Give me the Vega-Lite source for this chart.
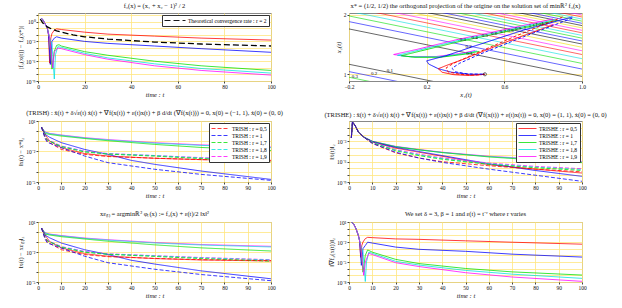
{
"$schema": "https://vega.github.io/schema/vega-lite/v6.json",
"background": "white",
"padding": {"left": 17, "top": 2, "right": 2, "bottom": 2},
"config": {
  "font": "Liberation Serif",
  "view": {"stroke": "#888888", "strokeWidth": 1},
  "axis": {"labelFontSize": 5.5, "titleFontSize": 6.5, "titleFontWeight": "normal", "gridColor": "#ffe680", "gridWidth": 0.8, "domain": false, "tickSize": 2, "tickColor": "#444444", "labelColor": "#111111", "titleColor": "#111111", "labelPadding": 1, "titlePadding": 2, "labelFlush": false, "labelOverlap": false},
  "title": {"fontSize": 6.5, "fontWeight": "normal", "offset": 3, "color": "#111111"},
  "legend": {"labelFontSize": 5.5, "symbolType": "M-1,0L5,0", "symbolSize": 36, "labelOffset": 14, "symbolStrokeWidth": 1.5, "rowPadding": 0, "padding": 2, "strokeColor": "#333333", "fillColor": "white", "offset": 2, "labelLimit": 300, "columnPadding": 2},
  "line": {"strokeWidth": 0.9}
},
"datasets": {
"p1": [
{"t":1.5,"v":3.16,"r":"0,5"},{"t":2,"v":2.0,"r":"0,5"},{"t":3,"v":0.5,"r":"0,5"},{"t":4,"v":0.1,"r":"0,5"},{"t":4.5,"v":0.01,"r":"0,5"},{"t":5,"v":5e-7,"r":"0,5"},{"t":5.5,"v":3.16e-3,"r":"0,5"},{"t":6,"v":1.58e-2,"r":"0,5"},{"t":7,"v":5e-2,"r":"0,5"},{"t":8,"v":7.9e-2,"r":"0,5"},{"t":10,"v":6.3e-2,"r":"0,5"},{"t":20,"v":2.5e-2,"r":"0,5"},{"t":30,"v":1.26e-2,"r":"0,5"},{"t":50,"v":6.3e-3,"r":"0,5"},{"t":70,"v":3.16e-3,"r":"0,5"},{"t":100,"v":1.58e-3,"r":"0,5"},
{"t":1.5,"v":3.16,"r":"1"},{"t":2,"v":2.0,"r":"1"},{"t":3,"v":0.5,"r":"1"},{"t":4,"v":0.1,"r":"1"},{"t":4.5,"v":0.01,"r":"1"},{"t":5.3,"v":3.16e-7,"r":"1"},{"t":6,"v":1e-3,"r":"1"},{"t":7,"v":3.16e-3,"r":"1"},{"t":8,"v":5e-3,"r":"1"},{"t":10,"v":3.16e-3,"r":"1"},{"t":20,"v":1e-3,"r":"1"},{"t":30,"v":5e-4,"r":"1"},{"t":50,"v":2e-4,"r":"1"},{"t":70,"v":7.9e-5,"r":"1"},{"t":100,"v":2.24e-5,"r":"1"},
{"t":1.5,"v":3.16,"r":"1,7"},{"t":2,"v":2.0,"r":"1,7"},{"t":3,"v":0.5,"r":"1,7"},{"t":4,"v":0.1,"r":"1,7"},{"t":5,"v":3.16e-3,"r":"1,7"},{"t":6,"v":6.3e-8,"r":"1,7"},{"t":7,"v":3.16e-5,"r":"1,7"},{"t":8,"v":2.5e-4,"r":"1,7"},{"t":9,"v":3.16e-4,"r":"1,7"},{"t":10,"v":2e-4,"r":"1,7"},{"t":20,"v":2.8e-5,"r":"1,7"},{"t":30,"v":7.9e-6,"r":"1,7"},{"t":50,"v":1e-6,"r":"1,7"},{"t":70,"v":2e-7,"r":"1,7"},{"t":100,"v":4e-8,"r":"1,7"},
{"t":1.5,"v":3.16,"r":"1,8"},{"t":2,"v":2.0,"r":"1,8"},{"t":3,"v":0.5,"r":"1,8"},{"t":4,"v":0.1,"r":"1,8"},{"t":5,"v":3.16e-3,"r":"1,8"},{"t":6,"v":3.16e-4,"r":"1,8"},{"t":7,"v":2e-9,"r":"1,8"},{"t":7.5,"v":1e-5,"r":"1,8"},{"t":8.5,"v":1.58e-4,"r":"1,8"},{"t":10,"v":1.26e-4,"r":"1,8"},{"t":20,"v":1.58e-5,"r":"1,8"},{"t":30,"v":3.16e-6,"r":"1,8"},{"t":50,"v":4e-7,"r":"1,8"},{"t":70,"v":7.9e-8,"r":"1,8"},{"t":100,"v":1.58e-8,"r":"1,8"},
{"t":1.5,"v":3.16,"r":"1,9"},{"t":2,"v":2.0,"r":"1,9"},{"t":3,"v":0.5,"r":"1,9"},{"t":4,"v":0.1,"r":"1,9"},{"t":5,"v":3.16e-3,"r":"1,9"},{"t":6.3,"v":1e-7,"r":"1,9"},{"t":7,"v":2.5e-5,"r":"1,9"},{"t":8.5,"v":1e-4,"r":"1,9"},{"t":10,"v":7.9e-5,"r":"1,9"},{"t":20,"v":1e-5,"r":"1,9"},{"t":30,"v":2e-6,"r":"1,9"},{"t":50,"v":2e-7,"r":"1,9"},{"t":70,"v":4e-8,"r":"1,9"},{"t":100,"v":7.9e-9,"r":"1,9"}
],
"p1t": [
{"t":1,"v":2.5,"s":"Theoretical convergence rate : r = 2"},{"t":2,"v":0.63,"s":"Theoretical convergence rate : r = 2"},{"t":4,"v":0.158,"s":"Theoretical convergence rate : r = 2"},{"t":6,"v":7.1e-2,"s":"Theoretical convergence rate : r = 2"},{"t":8,"v":4e-2,"s":"Theoretical convergence rate : r = 2"},{"t":10,"v":2.5e-2,"s":"Theoretical convergence rate : r = 2"},{"t":15,"v":1e-2,"s":"Theoretical convergence rate : r = 2"},{"t":20,"v":5e-3,"s":"Theoretical convergence rate : r = 2"},{"t":30,"v":2.24e-3,"s":"Theoretical convergence rate : r = 2"},{"t":50,"v":7.9e-4,"s":"Theoretical convergence rate : r = 2"},{"t":70,"v":4e-4,"s":"Theoretical convergence rate : r = 2"},{"t":100,"v":2e-4,"s":"Theoretical convergence rate : r = 2"}
],
"cont": [
{"id":"u1","x1":-0.2,"x2":1.647,"col":"k"},{"id":"u1","x1":1,"x2":0.447,"col":"k"},
{"id":"u2","x1":-0.2,"x2":1.832,"col":"b"},{"id":"u2","x1":1,"x2":0.632,"col":"b"},
{"id":"u3","x1":-0.2,"x2":1.975,"col":"g"},{"id":"u3","x1":1,"x2":0.775,"col":"g"},
{"id":"u4","x1":-0.2,"x2":2.094,"col":"c"},{"id":"u4","x1":1,"x2":0.894,"col":"c"},
{"id":"u5","x1":-0.2,"x2":2.2,"col":"r"},{"id":"u5","x1":1,"x2":1.0,"col":"r"},
{"id":"u6","x1":-0.2,"x2":2.295,"col":"m"},{"id":"u6","x1":1,"x2":1.095,"col":"m"},
{"id":"u7","x1":-0.2,"x2":2.383,"col":"y"},{"id":"u7","x1":1,"x2":1.183,"col":"y"},
{"id":"u8","x1":-0.2,"x2":2.465,"col":"k"},{"id":"u8","x1":1,"x2":1.265,"col":"k"},
{"id":"u9","x1":-0.2,"x2":2.542,"col":"b"},{"id":"u9","x1":1,"x2":1.342,"col":"b"},
{"id":"u10","x1":-0.2,"x2":2.614,"col":"g"},{"id":"u10","x1":1,"x2":1.414,"col":"g"},
{"id":"u11","x1":-0.2,"x2":2.683,"col":"c"},{"id":"u11","x1":1,"x2":1.483,"col":"c"},
{"id":"u12","x1":-0.2,"x2":2.749,"col":"r"},{"id":"u12","x1":1,"x2":1.549,"col":"r"},
{"id":"u13","x1":-0.2,"x2":2.812,"col":"m"},{"id":"u13","x1":1,"x2":1.612,"col":"m"},
{"id":"u14","x1":-0.2,"x2":2.873,"col":"y"},{"id":"u14","x1":1,"x2":1.673,"col":"y"},
{"id":"u15","x1":-0.2,"x2":2.932,"col":"k"},{"id":"u15","x1":1,"x2":1.732,"col":"k"},
{"id":"u16","x1":-0.2,"x2":2.989,"col":"b"},{"id":"u16","x1":1,"x2":1.789,"col":"b"},
{"id":"u17","x1":-0.2,"x2":3.044,"col":"g"},{"id":"u17","x1":1,"x2":1.844,"col":"g"},
{"id":"u18","x1":-0.2,"x2":3.097,"col":"c"},{"id":"u18","x1":1,"x2":1.897,"col":"c"},
{"id":"u19","x1":-0.2,"x2":3.149,"col":"r"},{"id":"u19","x1":1,"x2":1.949,"col":"r"},
{"id":"u20","x1":-0.2,"x2":3.2,"col":"m"},{"id":"u20","x1":1,"x2":2.0,"col":"m"},
{"id":"l1","x1":-0.2,"x2":0.753,"col":"k"},{"id":"l1","x1":1,"x2":-0.447,"col":"k"},
{"id":"l2","x1":-0.2,"x2":0.568,"col":"b"},{"id":"l2","x1":1,"x2":-0.632,"col":"b"},
{"id":"l3","x1":-0.2,"x2":0.425,"col":"g"},{"id":"l3","x1":1,"x2":-0.775,"col":"g"}
],
"traj": [
{"id":"mE","o":1,"x1":0.85,"x2":1.9,"col":"m","m":"E"},{"id":"mE","o":2,"x1":0.6,"x2":1.63,"col":"m","m":"E"},{"id":"mE","o":3,"x1":0.35,"x2":1.37,"col":"m","m":"E"},{"id":"mE","o":4,"x1":0.15,"x2":1.13,"col":"m","m":"E"},{"id":"mE","o":5,"x1":0.03,"x2":1.0,"col":"m","m":"E"},{"id":"mE","o":6,"x1":0.1,"x2":0.95,"col":"m","m":"E"},{"id":"mE","o":7,"x1":0.25,"x2":0.95,"col":"m","m":"E"},{"id":"mE","o":8,"x1":0.38,"x2":1.03,"col":"m","m":"E"},{"id":"mE","o":9,"x1":0.45,"x2":1.1,"col":"m","m":"E"},
{"id":"cE","o":1,"x1":0.86,"x2":1.88,"col":"c","m":"E"},{"id":"cE","o":2,"x1":0.61,"x2":1.61,"col":"c","m":"E"},{"id":"cE","o":3,"x1":0.36,"x2":1.35,"col":"c","m":"E"},{"id":"cE","o":4,"x1":0.16,"x2":1.11,"col":"c","m":"E"},{"id":"cE","o":5,"x1":0.05,"x2":0.98,"col":"c","m":"E"},{"id":"cE","o":6,"x1":0.12,"x2":0.94,"col":"c","m":"E"},{"id":"cE","o":7,"x1":0.26,"x2":0.94,"col":"c","m":"E"},{"id":"cE","o":8,"x1":0.39,"x2":1.02,"col":"c","m":"E"},{"id":"cE","o":9,"x1":0.46,"x2":1.09,"col":"c","m":"E"},
{"id":"gE","o":1,"x1":0.87,"x2":1.86,"col":"g","m":"E"},{"id":"gE","o":2,"x1":0.62,"x2":1.59,"col":"g","m":"E"},{"id":"gE","o":3,"x1":0.37,"x2":1.33,"col":"g","m":"E"},{"id":"gE","o":4,"x1":0.17,"x2":1.09,"col":"g","m":"E"},{"id":"gE","o":5,"x1":0.07,"x2":0.97,"col":"g","m":"E"},{"id":"gE","o":6,"x1":0.14,"x2":0.93,"col":"g","m":"E"},{"id":"gE","o":7,"x1":0.27,"x2":0.93,"col":"g","m":"E"},{"id":"gE","o":8,"x1":0.4,"x2":1.01,"col":"g","m":"E"},{"id":"gE","o":9,"x1":0.47,"x2":1.08,"col":"g","m":"E"},
{"id":"bE","o":1,"x1":0.95,"x2":1.95,"col":"b","m":"E"},{"id":"bE","o":2,"x1":0.7,"x2":1.62,"col":"b","m":"E"},{"id":"bE","o":3,"x1":0.45,"x2":1.22,"col":"b","m":"E"},{"id":"bE","o":4,"x1":0.3,"x2":0.97,"col":"b","m":"E"},{"id":"bE","o":5,"x1":0.2,"x2":0.84,"col":"b","m":"E"},{"id":"bE","o":6,"x1":0.21,"x2":0.76,"col":"b","m":"E"},{"id":"bE","o":7,"x1":0.26,"x2":0.64,"col":"b","m":"E"},{"id":"bE","o":8,"x1":0.33,"x2":0.55,"col":"b","m":"E"},{"id":"bE","o":9,"x1":0.42,"x2":0.5,"col":"b","m":"E"},{"id":"bE","o":10,"x1":0.5,"x2":0.5,"col":"b","m":"E"},
{"id":"rE","o":1,"x1":0.85,"x2":1.75,"col":"r","m":"E"},{"id":"rE","o":2,"x1":0.6,"x2":1.3,"col":"r","m":"E"},{"id":"rE","o":3,"x1":0.4,"x2":0.9,"col":"r","m":"E"},{"id":"rE","o":4,"x1":0.3,"x2":0.72,"col":"r","m":"E"},{"id":"rE","o":5,"x1":0.26,"x2":0.64,"col":"r","m":"E"},{"id":"rE","o":6,"x1":0.28,"x2":0.55,"col":"r","m":"E"},{"id":"rE","o":7,"x1":0.34,"x2":0.49,"col":"r","m":"E"},{"id":"rE","o":8,"x1":0.42,"x2":0.47,"col":"r","m":"E"},{"id":"rE","o":9,"x1":0.48,"x2":0.49,"col":"r","m":"E"},{"id":"rE","o":10,"x1":0.5,"x2":0.5,"col":"r","m":"E"},
{"id":"rH","o":1,"x1":0.9,"x2":1.95,"col":"r","m":"H"},{"id":"rH","o":2,"x1":0.65,"x2":1.45,"col":"r","m":"H"},{"id":"rH","o":3,"x1":0.45,"x2":1.02,"col":"r","m":"H"},{"id":"rH","o":4,"x1":0.34,"x2":0.78,"col":"r","m":"H"},{"id":"rH","o":5,"x1":0.3,"x2":0.66,"col":"r","m":"H"},{"id":"rH","o":6,"x1":0.31,"x2":0.56,"col":"r","m":"H"},{"id":"rH","o":7,"x1":0.37,"x2":0.5,"col":"r","m":"H"},{"id":"rH","o":8,"x1":0.45,"x2":0.48,"col":"r","m":"H"},{"id":"rH","o":9,"x1":0.5,"x2":0.5,"col":"r","m":"H"},
{"id":"bH","o":1,"x1":0.95,"x2":1.92,"col":"b","m":"H"},{"id":"bH","o":2,"x1":0.7,"x2":1.45,"col":"b","m":"H"},{"id":"bH","o":3,"x1":0.48,"x2":1.02,"col":"b","m":"H"},{"id":"bH","o":4,"x1":0.37,"x2":0.78,"col":"b","m":"H"},{"id":"bH","o":5,"x1":0.33,"x2":0.65,"col":"b","m":"H"},{"id":"bH","o":6,"x1":0.35,"x2":0.56,"col":"b","m":"H"},{"id":"bH","o":7,"x1":0.41,"x2":0.51,"col":"b","m":"H"},{"id":"bH","o":8,"x1":0.5,"x2":0.5,"col":"b","m":"H"}
],
"lab": [
{"x1":0.01,"x2":0.6,"txt":"0.1"},{"x1":-0.07,"x2":0.52,"txt":"0.2"},{"x1":-0.17,"x2":0.46,"txt":"0.3"},
{"x1":0.42,"x2":1.04,"txt":"0.1"},{"x1":0.416,"x2":1.216,"txt":"0.2"},
{"x1":0.387,"x2":1.387,"txt":"0.3"},{"x1":0.447,"x2":1.447,"txt":"0.4"},{"x1":0.5,"x2":1.5,"txt":"0.5"},{"x1":0.548,"x2":1.548,"txt":"0.6"},{"x1":0.592,"x2":1.592,"txt":"0.7"},{"x1":0.632,"x2":1.632,"txt":"0.8"},{"x1":0.671,"x2":1.671,"txt":"0.9"},{"x1":0.707,"x2":1.707,"txt":"1"},{"x1":0.742,"x2":1.742,"txt":"1.1"},{"x1":0.775,"x2":1.775,"txt":"1.2"},{"x1":0.806,"x2":1.806,"txt":"1.3"}
],
"mark": [{"x1":0.5,"x2":0.5}],
"p3": [
{"t":1.5,"v":2.5,"r":"1,9","m":"E"},{"t":3,"v":0.83,"r":"1,9","m":"E"},{"t":5,"v":0.6,"r":"1,9","m":"E"},{"t":10,"v":0.42,"r":"1,9","m":"E"},{"t":20,"v":0.23,"r":"1,9","m":"E"},{"t":30,"v":0.15,"r":"1,9","m":"E"},{"t":50,"v":7.4e-2,"r":"1,9","m":"E"},{"t":70,"v":4.5e-2,"r":"1,9","m":"E"},{"t":100,"v":2.75e-2,"r":"1,9","m":"E"},
{"t":1.5,"v":2.5,"r":"1,8","m":"E"},{"t":3,"v":0.8,"r":"1,8","m":"E"},{"t":5,"v":0.57,"r":"1,8","m":"E"},{"t":10,"v":0.39,"r":"1,8","m":"E"},{"t":20,"v":0.21,"r":"1,8","m":"E"},{"t":30,"v":0.135,"r":"1,8","m":"E"},{"t":50,"v":6.6e-2,"r":"1,8","m":"E"},{"t":70,"v":4e-2,"r":"1,8","m":"E"},{"t":100,"v":2.4e-2,"r":"1,8","m":"E"},
{"t":1.5,"v":2.5,"r":"1,7","m":"E"},{"t":3,"v":0.6,"r":"1,7","m":"E"},{"t":5,"v":0.48,"r":"1,7","m":"E"},{"t":10,"v":0.33,"r":"1,7","m":"E"},{"t":20,"v":0.19,"r":"1,7","m":"E"},{"t":30,"v":0.115,"r":"1,7","m":"E"},{"t":50,"v":5e-2,"r":"1,7","m":"E"},{"t":70,"v":2.5e-2,"r":"1,7","m":"E"},{"t":100,"v":1.26e-2,"r":"1,7","m":"E"},
{"t":1.5,"v":2.5,"r":"0,5","m":"E"},{"t":3,"v":0.5,"r":"0,5","m":"E"},{"t":5,"v":0.107,"r":"0,5","m":"E"},{"t":10,"v":2.4e-2,"r":"0,5","m":"E"},{"t":20,"v":6.3e-3,"r":"0,5","m":"E"},{"t":30,"v":3.6e-3,"r":"0,5","m":"E"},{"t":50,"v":2.14e-3,"r":"0,5","m":"E"},{"t":70,"v":1.58e-3,"r":"0,5","m":"E"},{"t":100,"v":1.17e-3,"r":"0,5","m":"E"},
{"t":1.5,"v":2.5,"r":"1","m":"E"},{"t":3,"v":0.49,"r":"1","m":"E"},{"t":5,"v":0.25,"r":"1","m":"E"},{"t":10,"v":7.4e-2,"r":"1","m":"E"},{"t":20,"v":1.6e-2,"r":"1","m":"E"},{"t":30,"v":5.2e-3,"r":"1","m":"E"},{"t":40,"v":1.35e-3,"r":"1","m":"E"},{"t":50,"v":5.5e-4,"r":"1","m":"E"},{"t":70,"v":1.2e-4,"r":"1","m":"E"},{"t":100,"v":1.8e-5,"r":"1","m":"E"},
{"t":1.5,"v":2.5,"r":"1,9","m":"H"},{"t":3,"v":0.35,"r":"1,9","m":"H"},{"t":4,"v":0.15,"r":"1,9","m":"H"},{"t":10,"v":3.5e-2,"r":"1,9","m":"H"},{"t":20,"v":1.1e-2,"r":"1,9","m":"H"},{"t":30,"v":6.3e-3,"r":"1,9","m":"H"},{"t":50,"v":4e-3,"r":"1,9","m":"H"},{"t":70,"v":2.5e-3,"r":"1,9","m":"H"},{"t":100,"v":1.35e-3,"r":"1,9","m":"H"},
{"t":1.5,"v":2.5,"r":"1,8","m":"H"},{"t":3,"v":0.33,"r":"1,8","m":"H"},{"t":4,"v":0.14,"r":"1,8","m":"H"},{"t":10,"v":3.2e-2,"r":"1,8","m":"H"},{"t":20,"v":1e-2,"r":"1,8","m":"H"},{"t":30,"v":6e-3,"r":"1,8","m":"H"},{"t":50,"v":4e-3,"r":"1,8","m":"H"},{"t":70,"v":2.3e-3,"r":"1,8","m":"H"},{"t":100,"v":1.2e-3,"r":"1,8","m":"H"},
{"t":1.5,"v":2.5,"r":"1,7","m":"H"},{"t":3,"v":0.3,"r":"1,7","m":"H"},{"t":4,"v":0.13,"r":"1,7","m":"H"},{"t":10,"v":3e-2,"r":"1,7","m":"H"},{"t":20,"v":9e-3,"r":"1,7","m":"H"},{"t":30,"v":5.5e-3,"r":"1,7","m":"H"},{"t":50,"v":3.5e-3,"r":"1,7","m":"H"},{"t":70,"v":2e-3,"r":"1,7","m":"H"},{"t":100,"v":9.3e-4,"r":"1,7","m":"H"},
{"t":1.5,"v":2.5,"r":"0,5","m":"H"},{"t":3,"v":0.25,"r":"0,5","m":"H"},{"t":4,"v":0.1,"r":"0,5","m":"H"},{"t":10,"v":1.6e-2,"r":"0,5","m":"H"},{"t":20,"v":5.2e-3,"r":"0,5","m":"H"},{"t":30,"v":3.2e-3,"r":"0,5","m":"H"},{"t":50,"v":2.2e-3,"r":"0,5","m":"H"},{"t":70,"v":1.6e-3,"r":"0,5","m":"H"},{"t":100,"v":1.35e-3,"r":"0,5","m":"H"},
{"t":1.5,"v":2.5,"r":"1","m":"H"},{"t":3,"v":0.2,"r":"1","m":"H"},{"t":4,"v":8e-2,"r":"1","m":"H"},{"t":10,"v":2.4e-2,"r":"1","m":"H"},{"t":20,"v":3.6e-3,"r":"1","m":"H"},{"t":30,"v":8e-4,"r":"1","m":"H"},{"t":50,"v":1.8e-4,"r":"1","m":"H"},{"t":70,"v":5.6e-5,"r":"1","m":"H"},{"t":100,"v":1.45e-5,"r":"1","m":"H"}
],
"p5": [
{"t":1.5,"v":2.5,"r":"1,9","m":"E"},{"t":3,"v":0.85,"r":"1,9","m":"E"},{"t":5,"v":0.62,"r":"1,9","m":"E"},{"t":10,"v":0.44,"r":"1,9","m":"E"},{"t":20,"v":0.25,"r":"1,9","m":"E"},{"t":30,"v":0.17,"r":"1,9","m":"E"},{"t":50,"v":8.9e-2,"r":"1,9","m":"E"},{"t":70,"v":5.6e-2,"r":"1,9","m":"E"},{"t":100,"v":3.7e-2,"r":"1,9","m":"E"},
{"t":1.5,"v":2.5,"r":"1,8","m":"E"},{"t":3,"v":0.82,"r":"1,8","m":"E"},{"t":5,"v":0.59,"r":"1,8","m":"E"},{"t":10,"v":0.41,"r":"1,8","m":"E"},{"t":20,"v":0.23,"r":"1,8","m":"E"},{"t":30,"v":0.155,"r":"1,8","m":"E"},{"t":50,"v":8e-2,"r":"1,8","m":"E"},{"t":70,"v":5e-2,"r":"1,8","m":"E"},{"t":100,"v":3.2e-2,"r":"1,8","m":"E"},
{"t":1.5,"v":2.5,"r":"1,7","m":"E"},{"t":3,"v":0.62,"r":"1,7","m":"E"},{"t":5,"v":0.5,"r":"1,7","m":"E"},{"t":10,"v":0.34,"r":"1,7","m":"E"},{"t":20,"v":0.2,"r":"1,7","m":"E"},{"t":30,"v":0.12,"r":"1,7","m":"E"},{"t":50,"v":5.2e-2,"r":"1,7","m":"E"},{"t":70,"v":2.6e-2,"r":"1,7","m":"E"},{"t":100,"v":1.26e-2,"r":"1,7","m":"E"},
{"t":1.5,"v":2.5,"r":"0,5","m":"E"},{"t":3,"v":0.5,"r":"0,5","m":"E"},{"t":5,"v":0.11,"r":"0,5","m":"E"},{"t":10,"v":2.6e-2,"r":"0,5","m":"E"},{"t":20,"v":6.8e-3,"r":"0,5","m":"E"},{"t":30,"v":3.8e-3,"r":"0,5","m":"E"},{"t":50,"v":2.2e-3,"r":"0,5","m":"E"},{"t":70,"v":1.6e-3,"r":"0,5","m":"E"},{"t":100,"v":1.26e-3,"r":"0,5","m":"E"},
{"t":1.5,"v":2.5,"r":"1","m":"E"},{"t":3,"v":0.5,"r":"1","m":"E"},{"t":5,"v":0.26,"r":"1","m":"E"},{"t":10,"v":7.9e-2,"r":"1","m":"E"},{"t":20,"v":1.7e-2,"r":"1","m":"E"},{"t":30,"v":5.6e-3,"r":"1","m":"E"},{"t":40,"v":1.5e-3,"r":"1","m":"E"},{"t":50,"v":6.3e-4,"r":"1","m":"E"},{"t":70,"v":1.3e-4,"r":"1","m":"E"},{"t":100,"v":2.1e-5,"r":"1","m":"E"},
{"t":1.5,"v":2.5,"r":"1,9","m":"H"},{"t":3,"v":0.35,"r":"1,9","m":"H"},{"t":4,"v":0.15,"r":"1,9","m":"H"},{"t":10,"v":3.5e-2,"r":"1,9","m":"H"},{"t":20,"v":1.15e-2,"r":"1,9","m":"H"},{"t":30,"v":6.6e-3,"r":"1,9","m":"H"},{"t":50,"v":4.3e-3,"r":"1,9","m":"H"},{"t":70,"v":2.8e-3,"r":"1,9","m":"H"},{"t":100,"v":1.7e-3,"r":"1,9","m":"H"},
{"t":1.5,"v":2.5,"r":"1,8","m":"H"},{"t":3,"v":0.33,"r":"1,8","m":"H"},{"t":4,"v":0.14,"r":"1,8","m":"H"},{"t":10,"v":3.2e-2,"r":"1,8","m":"H"},{"t":20,"v":1.05e-2,"r":"1,8","m":"H"},{"t":30,"v":6.3e-3,"r":"1,8","m":"H"},{"t":50,"v":4.1e-3,"r":"1,8","m":"H"},{"t":70,"v":2.6e-3,"r":"1,8","m":"H"},{"t":100,"v":1.6e-3,"r":"1,8","m":"H"},
{"t":1.5,"v":2.5,"r":"1,7","m":"H"},{"t":3,"v":0.3,"r":"1,7","m":"H"},{"t":4,"v":0.13,"r":"1,7","m":"H"},{"t":10,"v":3e-2,"r":"1,7","m":"H"},{"t":20,"v":9.5e-3,"r":"1,7","m":"H"},{"t":30,"v":5.8e-3,"r":"1,7","m":"H"},{"t":50,"v":3.6e-3,"r":"1,7","m":"H"},{"t":70,"v":2.2e-3,"r":"1,7","m":"H"},{"t":100,"v":1.2e-3,"r":"1,7","m":"H"},
{"t":1.5,"v":2.5,"r":"0,5","m":"H"},{"t":3,"v":0.25,"r":"0,5","m":"H"},{"t":4,"v":0.1,"r":"0,5","m":"H"},{"t":10,"v":1.7e-2,"r":"0,5","m":"H"},{"t":20,"v":5.5e-3,"r":"0,5","m":"H"},{"t":30,"v":3.4e-3,"r":"0,5","m":"H"},{"t":50,"v":2.3e-3,"r":"0,5","m":"H"},{"t":70,"v":1.7e-3,"r":"0,5","m":"H"},{"t":100,"v":1.4e-3,"r":"0,5","m":"H"},
{"t":1.5,"v":2.5,"r":"1","m":"H"},{"t":3,"v":0.2,"r":"1","m":"H"},{"t":4,"v":8e-2,"r":"1","m":"H"},{"t":10,"v":2.5e-2,"r":"1","m":"H"},{"t":20,"v":3.8e-3,"r":"1","m":"H"},{"t":30,"v":8.5e-4,"r":"1","m":"H"},{"t":50,"v":1.9e-4,"r":"1","m":"H"},{"t":70,"v":5.6e-5,"r":"1","m":"H"},{"t":100,"v":1.35e-5,"r":"1","m":"H"}
],
"p4": [
{"t":1,"v":3.16e-3,"r":"1,9","m":"E"},{"t":1.5,"v":0.71,"r":"1,9","m":"E"},{"t":2.5,"v":0.25,"r":"1,9","m":"E"},{"t":4,"v":2.5e-2,"r":"1,9","m":"E"},{"t":6,"v":5e-3,"r":"1,9","m":"E"},{"t":10,"v":1e-3,"r":"1,9","m":"E"},{"t":20,"v":1.82e-4,"r":"1,9","m":"E"},{"t":30,"v":6.3e-5,"r":"1,9","m":"E"},{"t":40,"v":2.5e-5,"r":"1,9","m":"E"},{"t":60,"v":6.3e-6,"r":"1,9","m":"E"},{"t":80,"v":2.5e-6,"r":"1,9","m":"E"},{"t":100,"v":1.1e-6,"r":"1,9","m":"E"},
{"t":1,"v":3.16e-3,"r":"1,8","m":"E"},{"t":1.5,"v":0.71,"r":"1,8","m":"E"},{"t":2.5,"v":0.25,"r":"1,8","m":"E"},{"t":4,"v":2.5e-2,"r":"1,8","m":"E"},{"t":6,"v":5e-3,"r":"1,8","m":"E"},{"t":10,"v":1e-3,"r":"1,8","m":"E"},{"t":20,"v":1.7e-4,"r":"1,8","m":"E"},{"t":30,"v":5.6e-5,"r":"1,8","m":"E"},{"t":40,"v":2.2e-5,"r":"1,8","m":"E"},{"t":60,"v":5.6e-6,"r":"1,8","m":"E"},{"t":80,"v":2.2e-6,"r":"1,8","m":"E"},{"t":100,"v":8.9e-7,"r":"1,8","m":"E"},
{"t":1,"v":3.16e-3,"r":"1,7","m":"E"},{"t":1.5,"v":0.71,"r":"1,7","m":"E"},{"t":2.5,"v":0.25,"r":"1,7","m":"E"},{"t":4,"v":2.5e-2,"r":"1,7","m":"E"},{"t":6,"v":5e-3,"r":"1,7","m":"E"},{"t":10,"v":1e-3,"r":"1,7","m":"E"},{"t":20,"v":1.58e-4,"r":"1,7","m":"E"},{"t":30,"v":5.6e-5,"r":"1,7","m":"E"},{"t":40,"v":2.24e-5,"r":"1,7","m":"E"},{"t":60,"v":5e-6,"r":"1,7","m":"E"},{"t":80,"v":1.78e-6,"r":"1,7","m":"E"},{"t":100,"v":7.1e-7,"r":"1,7","m":"E"},
{"t":1,"v":3.16e-3,"r":"0,5","m":"E"},{"t":1.5,"v":0.71,"r":"0,5","m":"E"},{"t":2.5,"v":0.25,"r":"0,5","m":"E"},{"t":4,"v":2.5e-2,"r":"0,5","m":"E"},{"t":6,"v":5e-3,"r":"0,5","m":"E"},{"t":10,"v":7.9e-4,"r":"0,5","m":"E"},{"t":20,"v":1e-4,"r":"0,5","m":"E"},{"t":30,"v":2.5e-5,"r":"0,5","m":"E"},{"t":40,"v":6.3e-6,"r":"0,5","m":"E"},{"t":60,"v":3.55e-7,"r":"0,5","m":"E"},{"t":80,"v":7.9e-8,"r":"0,5","m":"E"},{"t":100,"v":2.1e-8,"r":"0,5","m":"E"},
{"t":1,"v":3.16e-3,"r":"1","m":"E"},{"t":1.5,"v":0.71,"r":"1","m":"E"},{"t":2.5,"v":0.25,"r":"1","m":"E"},{"t":4,"v":2.5e-2,"r":"1","m":"E"},{"t":6,"v":5e-3,"r":"1","m":"E"},{"t":10,"v":8.9e-4,"r":"1","m":"E"},{"t":20,"v":1.26e-4,"r":"1","m":"E"},{"t":30,"v":3.16e-5,"r":"1","m":"E"},{"t":40,"v":7.9e-6,"r":"1","m":"E"},{"t":60,"v":5e-7,"r":"1","m":"E"},{"t":80,"v":5e-8,"r":"1","m":"E"},{"t":100,"v":6.8e-9,"r":"1","m":"E"},
{"t":1,"v":3.16e-3,"r":"1,9","m":"H"},{"t":1.5,"v":0.71,"r":"1,9","m":"H"},{"t":2.5,"v":0.25,"r":"1,9","m":"H"},{"t":4,"v":2.5e-2,"r":"1,9","m":"H"},{"t":6,"v":5e-3,"r":"1,9","m":"H"},{"t":10,"v":7.9e-4,"r":"1,9","m":"H"},{"t":20,"v":5.9e-5,"r":"1,9","m":"H"},{"t":30,"v":1.26e-5,"r":"1,9","m":"H"},{"t":40,"v":3.5e-6,"r":"1,9","m":"H"},{"t":60,"v":6.3e-7,"r":"1,9","m":"H"},{"t":80,"v":2e-7,"r":"1,9","m":"H"},{"t":100,"v":9.1e-8,"r":"1,9","m":"H"},
{"t":1,"v":3.16e-3,"r":"1,8","m":"H"},{"t":1.5,"v":0.71,"r":"1,8","m":"H"},{"t":2.5,"v":0.25,"r":"1,8","m":"H"},{"t":4,"v":2.5e-2,"r":"1,8","m":"H"},{"t":6,"v":5e-3,"r":"1,8","m":"H"},{"t":10,"v":7.1e-4,"r":"1,8","m":"H"},{"t":20,"v":5e-5,"r":"1,8","m":"H"},{"t":30,"v":1e-5,"r":"1,8","m":"H"},{"t":40,"v":2.8e-6,"r":"1,8","m":"H"},{"t":60,"v":5e-7,"r":"1,8","m":"H"},{"t":80,"v":1.58e-7,"r":"1,8","m":"H"},{"t":100,"v":7.1e-8,"r":"1,8","m":"H"},
{"t":1,"v":3.16e-3,"r":"1,7","m":"H"},{"t":1.5,"v":0.71,"r":"1,7","m":"H"},{"t":2.5,"v":0.25,"r":"1,7","m":"H"},{"t":4,"v":2.5e-2,"r":"1,7","m":"H"},{"t":6,"v":5e-3,"r":"1,7","m":"H"},{"t":10,"v":6.3e-4,"r":"1,7","m":"H"},{"t":20,"v":4e-5,"r":"1,7","m":"H"},{"t":30,"v":7.9e-6,"r":"1,7","m":"H"},{"t":40,"v":2.24e-6,"r":"1,7","m":"H"},{"t":60,"v":4e-7,"r":"1,7","m":"H"},{"t":80,"v":1.26e-7,"r":"1,7","m":"H"},{"t":100,"v":5e-8,"r":"1,7","m":"H"},
{"t":1,"v":3.16e-3,"r":"0,5","m":"H"},{"t":1.5,"v":0.71,"r":"0,5","m":"H"},{"t":2.5,"v":0.25,"r":"0,5","m":"H"},{"t":4,"v":2.5e-2,"r":"0,5","m":"H"},{"t":6,"v":5e-3,"r":"0,5","m":"H"},{"t":10,"v":5e-4,"r":"0,5","m":"H"},{"t":20,"v":2e-5,"r":"0,5","m":"H"},{"t":30,"v":3.5e-6,"r":"0,5","m":"H"},{"t":40,"v":1e-6,"r":"0,5","m":"H"},{"t":60,"v":2.5e-7,"r":"0,5","m":"H"},{"t":80,"v":7.9e-8,"r":"0,5","m":"H"},{"t":100,"v":3.16e-8,"r":"0,5","m":"H"},
{"t":1,"v":3.16e-3,"r":"1","m":"H"},{"t":1.5,"v":0.71,"r":"1","m":"H"},{"t":2.5,"v":0.25,"r":"1","m":"H"},{"t":4,"v":2.5e-2,"r":"1","m":"H"},{"t":6,"v":5e-3,"r":"1","m":"H"},{"t":10,"v":5e-4,"r":"1","m":"H"},{"t":20,"v":2.5e-5,"r":"1","m":"H"},{"t":30,"v":3.5e-6,"r":"1","m":"H"},{"t":40,"v":7.9e-7,"r":"1","m":"H"},{"t":60,"v":7.9e-8,"r":"1","m":"H"},{"t":80,"v":1e-8,"r":"1","m":"H"},{"t":100,"v":1.26e-9,"r":"1","m":"H"}
],
"p6": [
{"t":1,"v":10,"r":"0,5"},{"t":2,"v":5,"r":"0,5"},{"t":3,"v":1,"r":"0,5"},{"t":4,"v":0.1,"r":"0,5"},{"t":4.5,"v":2e-2,"r":"0,5"},{"t":5,"v":5e-5,"r":"0,5"},{"t":5.5,"v":3e-3,"r":"0,5"},{"t":6,"v":1e-2,"r":"0,5"},{"t":7,"v":3.2e-2,"r":"0,5"},{"t":8,"v":5e-2,"r":"0,5"},{"t":10,"v":4.5e-2,"r":"0,5"},{"t":20,"v":2.9e-2,"r":"0,5"},{"t":30,"v":2.5e-2,"r":"0,5"},{"t":50,"v":1.5e-2,"r":"0,5"},{"t":70,"v":9.3e-3,"r":"0,5"},{"t":100,"v":4.7e-3,"r":"0,5"},
{"t":1,"v":10,"r":"1"},{"t":2,"v":5,"r":"1"},{"t":3,"v":1,"r":"1"},{"t":4,"v":0.1,"r":"1"},{"t":4.5,"v":2e-2,"r":"1"},{"t":5.3,"v":3.16e-6,"r":"1"},{"t":6,"v":1e-3,"r":"1"},{"t":7,"v":3e-3,"r":"1"},{"t":8,"v":9.3e-3,"r":"1"},{"t":10,"v":7e-3,"r":"1"},{"t":20,"v":1.74e-3,"r":"1"},{"t":30,"v":8e-4,"r":"1"},{"t":50,"v":4e-4,"r":"1"},{"t":70,"v":1.5e-4,"r":"1"},{"t":100,"v":5.5e-5,"r":"1"},
{"t":1,"v":10,"r":"1,7"},{"t":2,"v":5,"r":"1,7"},{"t":3,"v":1,"r":"1,7"},{"t":4,"v":0.1,"r":"1,7"},{"t":5,"v":3e-3,"r":"1,7"},{"t":6,"v":3e-7,"r":"1,7"},{"t":7,"v":1e-4,"r":"1,7"},{"t":8,"v":6.5e-4,"r":"1,7"},{"t":10,"v":3e-4,"r":"1,7"},{"t":20,"v":2.5e-5,"r":"1,7"},{"t":30,"v":5.8e-6,"r":"1,7"},{"t":50,"v":1.07e-6,"r":"1,7"},{"t":70,"v":3.3e-7,"r":"1,7"},{"t":100,"v":1.1e-7,"r":"1,7"},
{"t":1,"v":10,"r":"1,8"},{"t":2,"v":5,"r":"1,8"},{"t":3,"v":1,"r":"1,8"},{"t":4,"v":0.1,"r":"1,8"},{"t":5,"v":3e-3,"r":"1,8"},{"t":6,"v":3e-4,"r":"1,8"},{"t":7,"v":1.2e-8,"r":"1,8"},{"t":7.5,"v":1e-5,"r":"1,8"},{"t":8.5,"v":3e-4,"r":"1,8"},{"t":10,"v":2e-4,"r":"1,8"},{"t":20,"v":1.26e-5,"r":"1,8"},{"t":30,"v":3.5e-6,"r":"1,8"},{"t":50,"v":5.5e-7,"r":"1,8"},{"t":70,"v":1.5e-7,"r":"1,8"},{"t":100,"v":3.5e-8,"r":"1,8"},
{"t":1,"v":10,"r":"1,9"},{"t":2,"v":5,"r":"1,9"},{"t":3,"v":1,"r":"1,9"},{"t":4,"v":0.1,"r":"1,9"},{"t":5,"v":3e-3,"r":"1,9"},{"t":6.3,"v":1e-7,"r":"1,9"},{"t":7,"v":1e-5,"r":"1,9"},{"t":8.5,"v":2e-4,"r":"1,9"},{"t":10,"v":1.3e-4,"r":"1,9"},{"t":20,"v":7.9e-6,"r":"1,9"},{"t":30,"v":2.1e-6,"r":"1,9"},{"t":50,"v":2.5e-7,"r":"1,9"},{"t":70,"v":5.6e-8,"r":"1,9"},{"t":100,"v":1.26e-8,"r":"1,9"}
]
},
"spacing": 10,
"resolve": {"scale": {"color": "independent", "strokeDash": "independent"}, "legend": {"color": "independent", "strokeDash": "independent"}},
"vconcat": [
{"hconcat": [
 {"width": 233, "height": 68, "title": "f₃(x) = (x₁ + x₂ − 1)² / 2",
  "layer": [
   {"data": {"name": "p1"}, "mark": {"type": "line", "clip": true, "opacity": 0.85},
    "encoding": {
     "x": {"field": "t", "type": "quantitative", "scale": {"domain": [0, 100], "nice": false}, "axis": {"values": [0,10,20,30,40,50,60,70,80,90,100], "title": "time : t", "titleFontStyle": "italic"}},
     "y": {"field": "v", "type": "quantitative", "scale": {"type": "log", "domain": [1e-9, 20], "nice": false}, "axis": {"values": [1e-9,1e-8,1e-7,1e-6,1e-5,1e-4,1e-3,1e-2,1e-1,1,10], "title": "|f₃(x(t)) − f₃(x*)|", "labelExpr": "datum.value > 0.5 && datum.value < 2 ? '10⁰' : datum.value > 5e-4 && datum.value < 2e-3 ? '10⁻³' : datum.value > 5e-7 && datum.value < 2e-6 ? '10⁻⁶' : datum.value > 5e-10 && datum.value < 2e-9 ? '10⁻⁹' : ''"}},
     "color": {"field": "r", "type": "nominal", "scale": {"domain": ["0,5","1","1,7","1,8","1,9"], "range": ["#ff0000","#0000ff","#00e000","#00e0e0","#ff00ff"]}, "legend": null}
    }},
   {"data": {"name": "p1t"}, "mark": {"type": "line", "color": "black", "strokeWidth": 1.3},
    "encoding": {
     "x": {"field": "t", "type": "quantitative"},
     "y": {"field": "v", "type": "quantitative"},
     "strokeDash": {"field": "s", "type": "nominal", "scale": {"range": [[6,3]]}, "legend": {"title": null, "orient": "top-right", "symbolStrokeColor": "black", "symbolStrokeWidth": 1.3, "labelFontSize": 5.5, "symbolType": "M-1,0L6,0", "labelOffset": 17}}
    }}
  ]},
 {"width": 233, "height": 68, "title": "x* = (1/2, 1/2)  the orthogonal projection of the origine on the solution set of  minℝ² f₃(x)",
  "layer": [
   {"data": {"name": "cont"}, "mark": {"type": "line", "clip": true, "strokeWidth": 0.6},
    "encoding": {
     "x": {"field": "x1", "type": "quantitative", "scale": {"domain": [-0.2, 1], "nice": false, "zero": false}, "axis": {"values": [-0.2,-0.1,0,0.1,0.2,0.3,0.4,0.5,0.6,0.7,0.8,0.9,1], "title": "x₁(t)", "titleFontStyle": "italic"}},
     "y": {"field": "x2", "type": "quantitative", "scale": {"domain": [0.33, 2.05], "nice": false, "zero": false}, "axis": {"values": [0.5,1,1.5,2], "title": "x₂(t)", "titleFontStyle": "italic"}},
     "detail": {"field": "id"},
     "color": {"field": "col", "type": "nominal", "scale": {"domain": ["k","b","g","c","r","m","y"], "range": ["#000000","#0000ff","#00dd00","#00dddd","#ff0000","#ff00ff","#eedd00"]}, "legend": null}
    }},
   {"data": {"name": "traj"}, "mark": {"type": "line", "clip": true, "strokeWidth": 0.9},
    "encoding": {
     "x": {"field": "x1", "type": "quantitative"},
     "y": {"field": "x2", "type": "quantitative"},
     "detail": {"field": "id"},
     "order": {"field": "o"},
     "color": {"field": "col", "type": "nominal", "legend": null},
     "strokeDash": {"field": "m", "type": "nominal", "scale": {"domain": ["E","H"], "range": [[1,0],[3,2]]}, "legend": null}
    }},
   {"data": {"name": "lab"}, "mark": {"type": "text", "fontSize": 5, "color": "black"},
    "encoding": {"x": {"field": "x1", "type": "quantitative"}, "y": {"field": "x2", "type": "quantitative"}, "text": {"field": "txt"}}},
   {"data": {"name": "mark"}, "mark": {"type": "point", "shape": "circle", "size": 10, "color": "black", "filled": false, "strokeWidth": 0.8},
    "encoding": {"x": {"field": "x1", "type": "quantitative"}, "y": {"field": "x2", "type": "quantitative"}}}
  ]}
 ], "spacing": 78, "bounds": "flush", "resolve": {"scale": {"color": "independent", "strokeDash": "independent"}, "legend": {"color": "independent", "strokeDash": "independent"}}},
{"hconcat": [
 {"width": 233, "height": 61, "title": "(TRISH) :  ẍ(t) + δ√ε(t) ẋ(t) + ∇f(x(t)) + ε(t)x(t) + β d/dt (∇f(x(t))) = 0, x(0) = (−1, 1), ẋ(0) = (0, 0)",
  "data": {"name": "p3"}, "mark": {"type": "line", "clip": true, "opacity": 0.85},
  "encoding": {
   "x": {"field": "t", "type": "quantitative", "scale": {"domain": [0, 100], "nice": false}, "axis": {"values": [0,10,20,30,40,50,60,70,80,90,100], "title": "time : t", "titleFontStyle": "italic"}},
   "y": {"field": "v", "type": "quantitative", "scale": {"type": "log", "domain": [1e-5, 10], "nice": false}, "axis": {"values": [1e-5,1e-4,1e-3,1e-2,1e-1,1,10], "title": "‖x(t) − x*‖₂", "labelExpr": "datum.value > 5 ? '10¹' : datum.value > 5e-3 && datum.value < 2e-2 ? '10⁻²' : datum.value < 2e-5 ? '10⁻⁵' : ''"}},
   "color": {"field": "r", "type": "nominal", "scale": {"domain": ["0,5","1","1,7","1,8","1,9"], "range": ["#ff0000","#0000ff","#00e000","#00e0e0","#ff00ff"]}, "legend": {"title": null, "orient": "top-right", "labelExpr": "'TRISH : r = ' + datum.label", "symbolDash": [4,2]}},
   "strokeDash": {"field": "m", "type": "nominal", "scale": {"domain": ["E","H"], "range": [[1,0],[4,2]]}, "legend": null}
  }},
 {"width": 233, "height": 61, "title": "(TRISHE) :  ẍ(t) + δ√ε(t) ẋ(t) + ∇f(x(t)) + ε(t)x(t) + β d/dt (∇f(x(t)) + ε(t)x(t)) = 0,  x(0) = (1, 1), ẋ(0) = (0, 0)",
  "data": {"name": "p4"}, "mark": {"type": "line", "clip": true, "opacity": 0.85},
  "encoding": {
   "x": {"field": "t", "type": "quantitative", "scale": {"domain": [0, 100], "nice": false}, "axis": {"values": [0,10,20,30,40,50,60,70,80,90,100], "title": "time : t", "titleFontStyle": "italic"}},
   "y": {"field": "v", "type": "quantitative", "scale": {"type": "log", "domain": [1e-9, 1], "nice": false}, "axis": {"values": [1e-9,1e-8,1e-7,1e-6,1e-5,1e-4,1e-3,1e-2,1e-1], "title": "‖ẋ(t)‖₂", "labelExpr": "datum.value > 5e-4 && datum.value < 2e-3 ? '10⁻³' : datum.value > 5e-7 && datum.value < 2e-6 ? '10⁻⁶' : datum.value < 2e-9 ? '10⁻⁹' : ''"}},
   "color": {"field": "r", "type": "nominal", "scale": {"domain": ["0,5","1","1,7","1,8","1,9"], "range": ["#ff0000","#0000ff","#00e000","#00e0e0","#ff00ff"]}, "legend": {"title": null, "orient": "top-right", "labelExpr": "'TRISHE : r = ' + datum.label"}},
   "strokeDash": {"field": "m", "type": "nominal", "scale": {"domain": ["E","H"], "range": [[1,0],[4,2]]}, "legend": null}
  }}
 ], "spacing": 78, "bounds": "flush", "resolve": {"scale": {"color": "independent", "strokeDash": "independent"}, "legend": {"color": "independent", "strokeDash": "independent"}}},
{"hconcat": [
 {"width": 233, "height": 60, "title": "xε₍ₜ₎ = argminℝ² φₜ(x) := f₃(x) + ε(t)/2 ‖x‖²",
  "data": {"name": "p5"}, "mark": {"type": "line", "clip": true, "opacity": 0.85},
  "encoding": {
   "x": {"field": "t", "type": "quantitative", "scale": {"domain": [0, 100], "nice": false}, "axis": {"values": [0,10,20,30,40,50,60,70,80,90,100], "title": "time : t", "titleFontStyle": "italic"}},
   "y": {"field": "v", "type": "quantitative", "scale": {"type": "log", "domain": [1e-5, 10], "nice": false}, "axis": {"values": [1e-5,1e-4,1e-3,1e-2,1e-1,1,10], "title": "‖x(t) − xε₍ₜ₎‖₂", "labelExpr": "datum.value > 5 ? '10¹' : datum.value > 5e-3 && datum.value < 2e-2 ? '10⁻²' : datum.value < 2e-5 ? '10⁻⁵' : ''"}},
   "color": {"field": "r", "type": "nominal", "scale": {"domain": ["0,5","1","1,7","1,8","1,9"], "range": ["#ff0000","#0000ff","#00e000","#00e0e0","#ff00ff"]}, "legend": null},
   "strokeDash": {"field": "m", "type": "nominal", "scale": {"domain": ["E","H"], "range": [[1,0],[4,2]]}, "legend": null}
  }},
 {"width": 233, "height": 60, "title": "We set δ = 3, β = 1 and ε(t) = t⁻ʳ where r varies",
  "data": {"name": "p6"}, "mark": {"type": "line", "clip": true, "opacity": 0.85},
  "encoding": {
   "x": {"field": "t", "type": "quantitative", "scale": {"domain": [0, 100], "nice": false}, "axis": {"values": [0,10,20,30,40,50,60,70,80,90,100], "title": "time : t", "titleFontStyle": "italic"}},
   "y": {"field": "v", "type": "quantitative", "scale": {"type": "log", "domain": [1e-8, 10], "nice": false}, "axis": {"values": [1e-8,1e-7,1e-6,1e-5,1e-4,1e-3,1e-2,1e-1,1,10], "title": "‖∇f₃(x(t))‖₂", "labelExpr": "datum.value > 5 ? '10¹' : datum.value > 5e-3 && datum.value < 2e-2 ? '10⁻²' : datum.value > 5e-6 && datum.value < 2e-5 ? '10⁻⁵' : datum.value < 2e-8 ? '10⁻⁸' : ''"}},
   "color": {"field": "r", "type": "nominal", "scale": {"domain": ["0,5","1","1,7","1,8","1,9"], "range": ["#ff0000","#0000ff","#00e000","#00e0e0","#ff00ff"]}, "legend": null}
  }}
 ], "spacing": 78, "bounds": "flush", "resolve": {"scale": {"color": "independent", "strokeDash": "independent"}, "legend": {"color": "independent", "strokeDash": "independent"}}}
]
}
